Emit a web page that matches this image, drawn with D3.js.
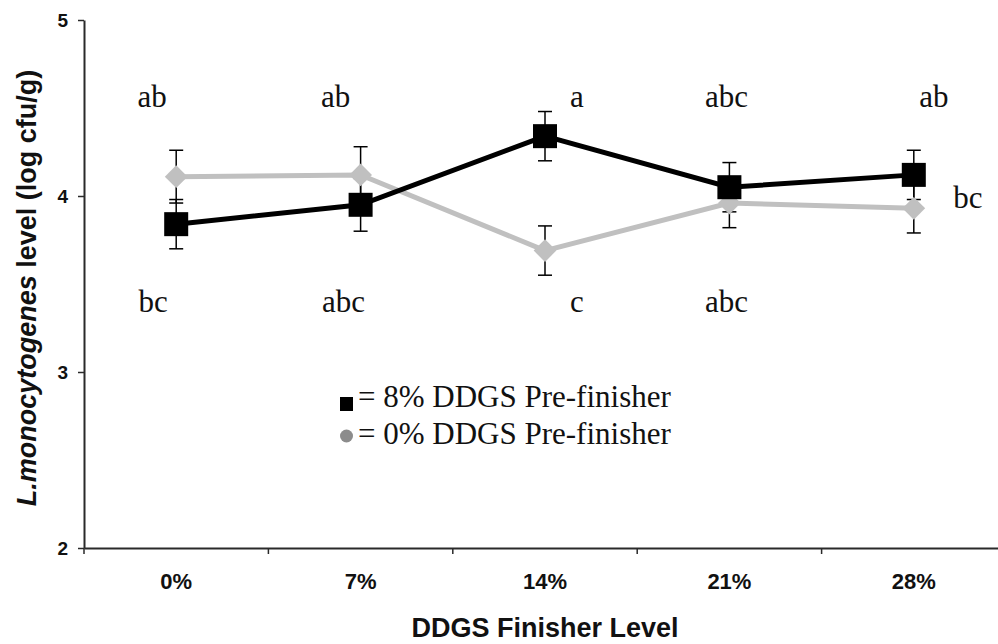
<!DOCTYPE html>
<html>
<head>
<meta charset="utf-8">
<script src="https://cdn.jsdelivr.net/npm/d3@7"></script>
<style>
  html, body { margin: 0; padding: 0; background: #fff; }
  svg { display: block; }
  .sans { font-family: "Liberation Sans", Arial, sans-serif; font-weight: bold; }
  .serif { font-family: "Liberation Serif", "Times New Roman", serif; }
</style>
</head>
<body>
<svg id="chart" width="998" height="644"></svg>
<script>
// Finisher diet DDGS level (x categories)
const categories = ["0%", "7%", "14%", "21%", "28%"];
// Mean L. monocytogenes counts (log cfu/g) and standard errors
const pre8 = [3.84, 3.95, 4.34, 4.05, 4.12];
const pre8Err = [0.14, 0.15, 0.14, 0.14, 0.14];
const pre0 = [4.11, 4.12, 3.69, 3.96, 3.93];
const pre0Err = [0.15, 0.16, 0.14, 0.14, 0.14];
const yTicks = [2, 3, 4, 5];
// Significance letters
const upperLetters = ["ab", "ab", "a", "abc", "ab"];
const lowerLetters = ["bc", "abc", "c", "abc", "bc"];
const seriesNames = ["= 8% DDGS Pre-finisher", "= 0% DDGS Pre-finisher"];

const svg = d3.select("#chart");
const axisColor = "#2a2a2a";

const x = d3.scaleBand().domain(categories).range([84, 1006]).padding(0);
const y = d3.scaleLinear().domain([2, 5]).range([548, 20]);
const cx = c => x(c) + x.bandwidth() / 2;

// Y axis
const yAxis = svg.append("g")
  .attr("transform", "translate(84,0)")
  .call(d3.axisLeft(y).tickValues(yTicks).tickSize(6).tickSizeOuter(0).tickFormat(d3.format("d")));
yAxis.select(".domain").attr("stroke", axisColor).attr("stroke-width", 2);
yAxis.selectAll(".tick line").attr("stroke", axisColor).attr("stroke-width", 1.5);
yAxis.selectAll(".tick text")
  .attr("class", "sans").attr("x", -16).attr("dy", "0.35em")
  .attr("font-size", 19).attr("fill", "#111");

// X axis: labels centred in bands, ticks at band boundaries
const xAxis = svg.append("g")
  .attr("transform", "translate(0,548)")
  .call(d3.axisBottom(x).tickSize(0).tickSizeOuter(0));
xAxis.select(".domain").attr("stroke", axisColor).attr("stroke-width", 2);
xAxis.selectAll(".tick text")
  .attr("class", "sans").attr("y", 41).attr("dy", 0)
  .attr("font-size", 22).attr("fill", "#111");
xAxis.selectAll(".boundary")
  .data(categories)
  .join("line")
  .attr("x1", d => x(d)).attr("x2", d => x(d))
  .attr("y1", 0).attr("y2", 6)
  .attr("stroke", axisColor).attr("stroke-width", 1.5);

// Axis titles
svg.append("text")
  .attr("class", "sans")
  .attr("x", 545).attr("y", 637)
  .attr("text-anchor", "middle")
  .attr("font-size", 27).attr("fill", "#111")
  .text("DDGS Finisher Level");

const yTitle = svg.append("text")
  .attr("class", "sans")
  .attr("transform", "translate(36,288) rotate(-90)")
  .attr("text-anchor", "middle")
  .attr("font-size", 27).attr("fill", "#111");
yTitle.append("tspan").attr("font-style", "italic").text("L.monocytogenes");
yTitle.append("tspan").text(" level (log cfu/g)");

// Error bars for both series
function errorBars(vals, errs) {
  const g = svg.append("g").attr("stroke", "#000").attr("stroke-width", 1.5);
  categories.forEach((c, i) => {
    const x0 = cx(c), top = y(vals[i] + errs[i]), bot = y(vals[i] - errs[i]);
    g.append("line").attr("x1", x0).attr("x2", x0).attr("y1", top).attr("y2", bot);
    g.append("line").attr("x1", x0 - 7).attr("x2", x0 + 7).attr("y1", top).attr("y2", top);
    g.append("line").attr("x1", x0 - 7).attr("x2", x0 + 7).attr("y1", bot).attr("y2", bot);
  });
}
errorBars(pre8, pre8Err);
errorBars(pre0, pre0Err);

const line = d3.line().x((d, i) => cx(categories[i])).y(d => y(d));

// 0% pre-finisher series (grey diamonds)
svg.append("path").datum(pre0)
  .attr("d", line).attr("fill", "none")
  .attr("stroke", "#c0c0c0").attr("stroke-width", 5);
svg.append("g").selectAll("path")
  .data(pre0).join("path")
  .attr("d", d3.symbol(d3.symbolDiamond2, 330))
  .attr("transform", (d, i) => `translate(${cx(categories[i])},${y(d)})`)
  .attr("fill", "#c0c0c0");

// 8% pre-finisher series (black squares)
svg.append("path").datum(pre8)
  .attr("d", line).attr("fill", "none")
  .attr("stroke", "#000").attr("stroke-width", 5);
svg.append("g").selectAll("rect")
  .data(pre8).join("rect")
  .attr("x", (d, i) => cx(categories[i]) - 12)
  .attr("y", d => y(d) - 12)
  .attr("width", 24).attr("height", 24)
  .attr("fill", "#000");

// Significance letters
const upperNudge = [-24, -25, 32, -3, 20];
const lowerNudge = [[-23, 312], [-17, 312], [32, 312], [-3, 312], [54, 208]];
svg.append("g").selectAll("text")
  .data(upperLetters).join("text")
  .attr("class", "serif")
  .attr("x", (d, i) => cx(categories[i]) + upperNudge[i])
  .attr("y", 107)
  .attr("text-anchor", "middle")
  .attr("font-size", 31).attr("fill", "#111")
  .text(d => d);
svg.append("g").selectAll("text")
  .data(lowerLetters).join("text")
  .attr("class", "serif")
  .attr("x", (d, i) => cx(categories[i]) + lowerNudge[i][0])
  .attr("y", (d, i) => lowerNudge[i][1])
  .attr("text-anchor", "middle")
  .attr("font-size", 31).attr("fill", "#111")
  .text(d => d);

// Legend
const legend = svg.append("g");
legend.append("rect").attr("x", 340).attr("y", 397).attr("width", 13).attr("height", 14).attr("fill", "#000");
legend.append("circle").attr("cx", 346.5).attr("cy", 436).attr("r", 6.5).attr("fill", "#8c8c8c");
legend.selectAll("text")
  .data(seriesNames).join("text")
  .attr("class", "serif")
  .attr("x", 358)
  .attr("y", (d, i) => 407 + i * 37)
  .attr("font-size", 31).attr("fill", "#111")
  .text(d => d);
</script>
</body>
</html>
